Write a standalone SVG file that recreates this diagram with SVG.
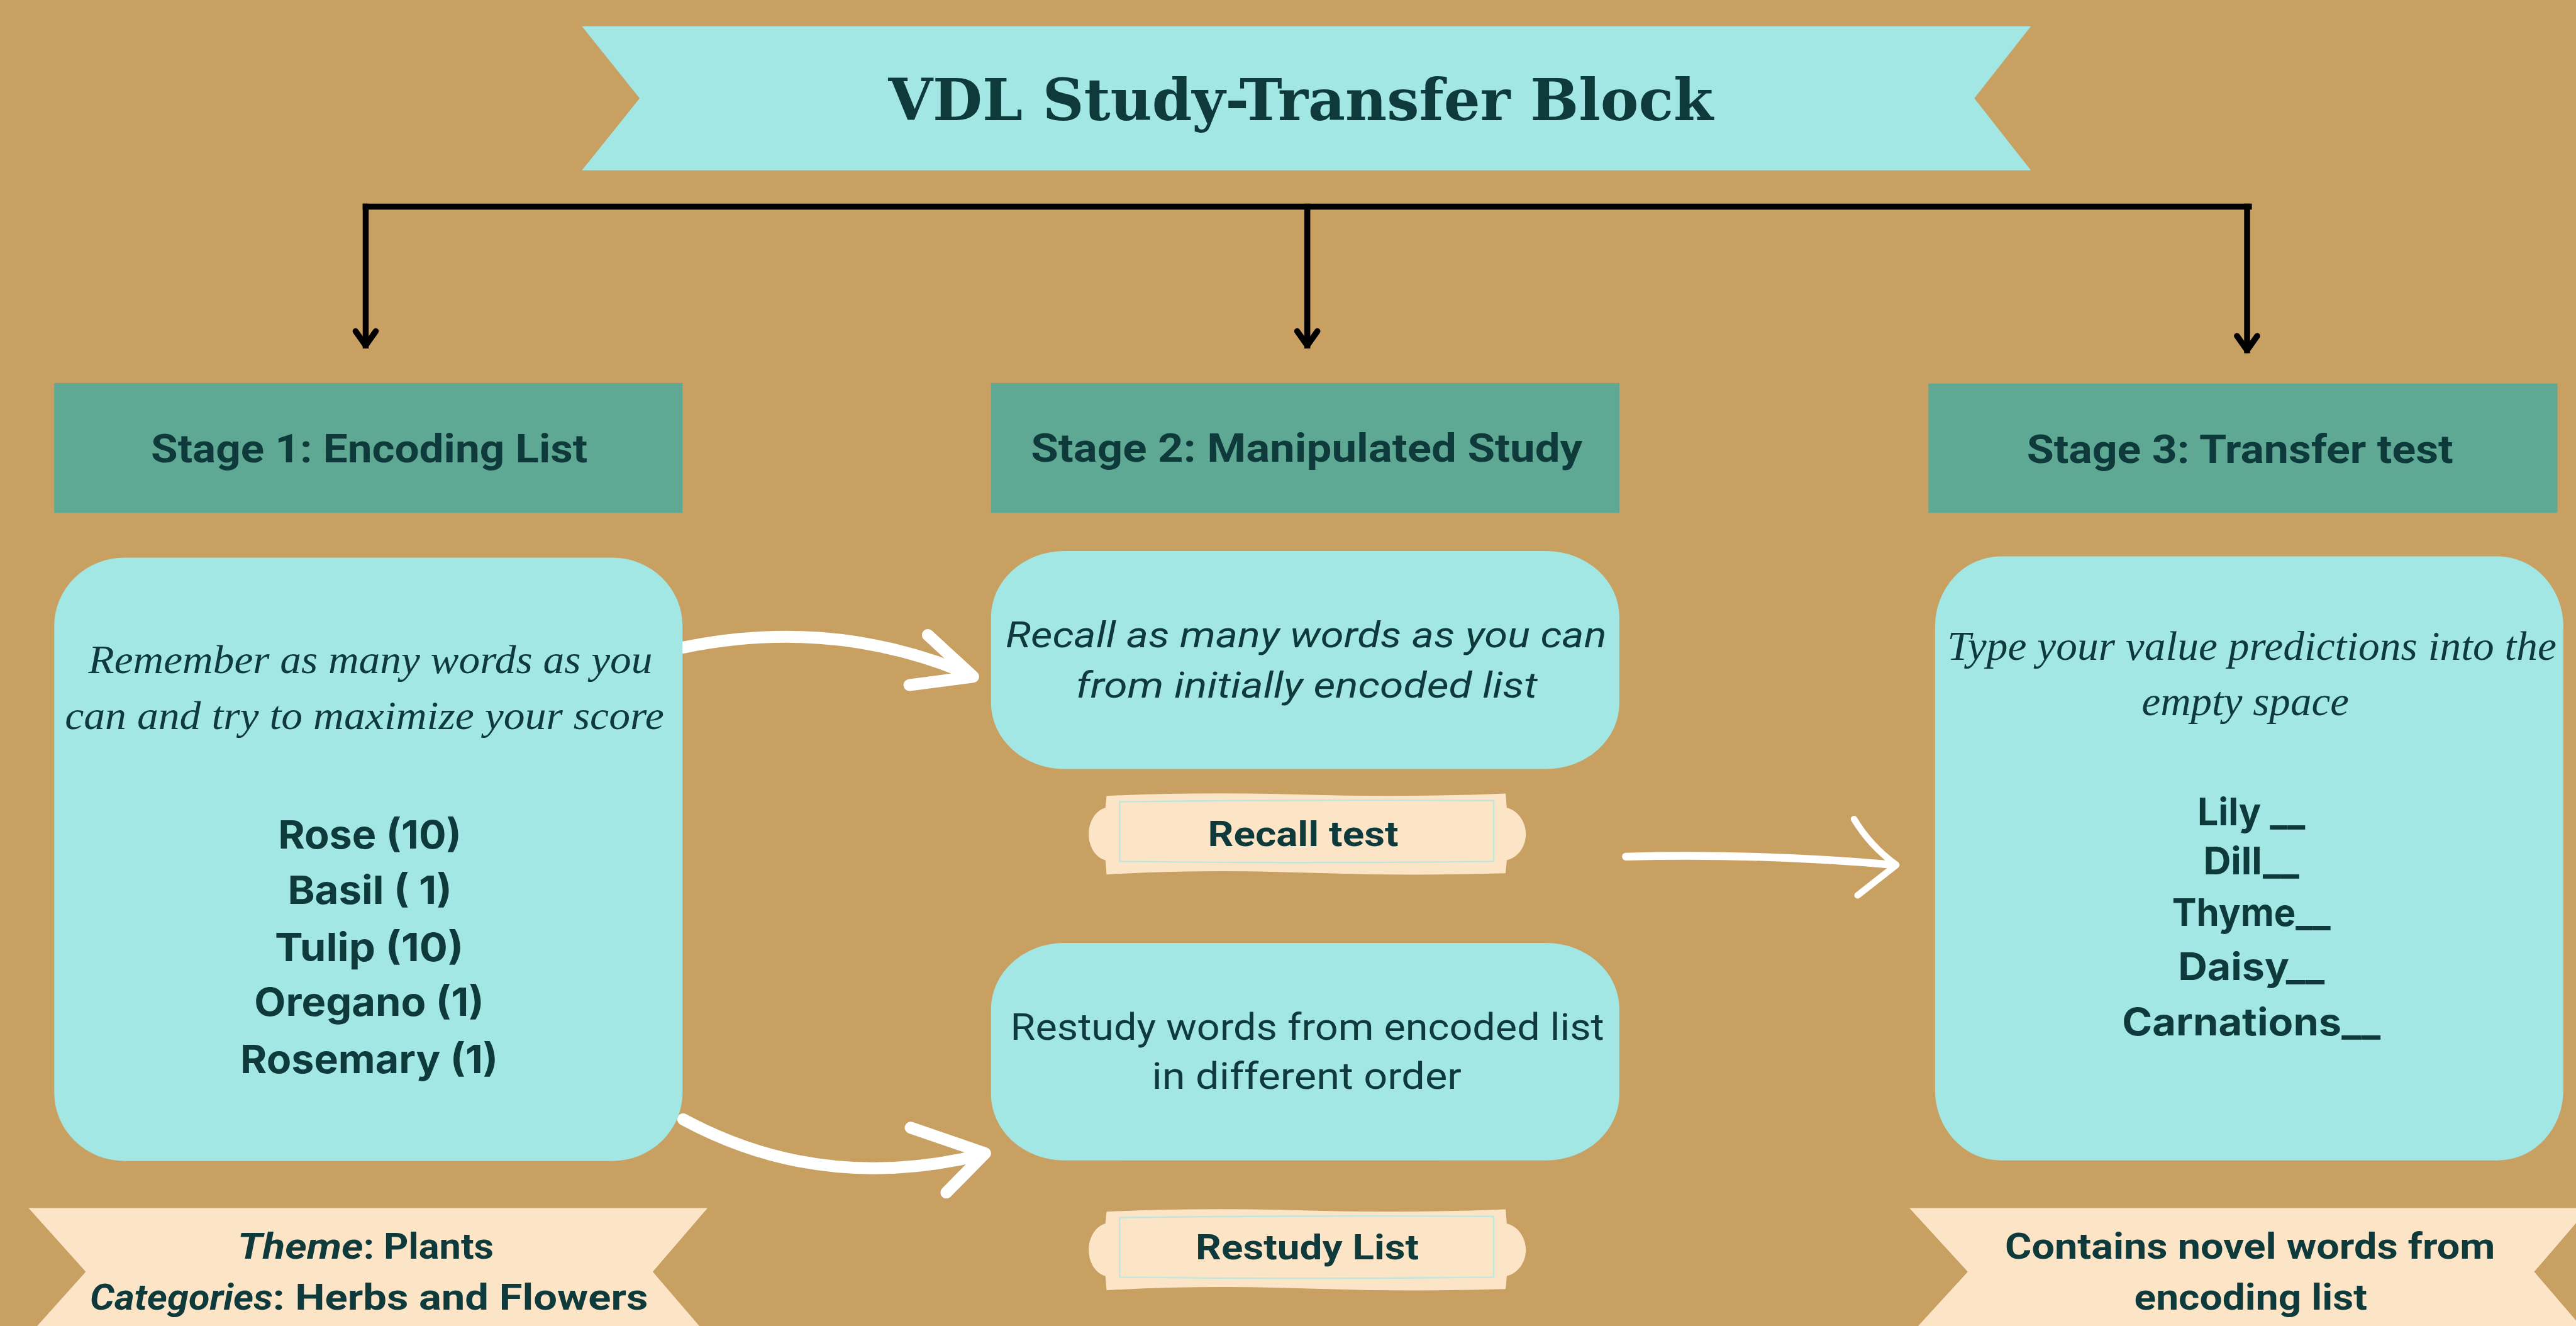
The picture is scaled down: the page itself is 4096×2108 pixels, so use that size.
<svg xmlns="http://www.w3.org/2000/svg" width="4096" height="2108" viewBox="0 0 4096 2108">
<style>
.bg{fill:#c8a062}
.cyan{fill:#a2e7e4}
.hdr{fill:#5fa893}
.beige{fill:#fbe5c6}
.t{fill:#0e3a3b;text-anchor:middle}
.cond{font-family:"Liberation Sans Narrow","Roboto","Open Sans",sans-serif;font-weight:700}
.condr{font-family:"Liberation Sans Narrow","Roboto","Open Sans",sans-serif;font-weight:400}
.geo{font-family:"Inter","Noto Sans",sans-serif;font-weight:700}
.seri{font-family:"Liberation Serif","Times New Roman",serif;font-style:italic}
.title{font-family:"DejaVu Serif","Liberation Serif",serif;font-weight:700}
.blk{fill:none;stroke:#000;stroke-width:10;stroke-linecap:square}
.wht{fill:none;stroke:#fff;stroke-linecap:round;stroke-linejoin:round}
.inner{fill:none;stroke:#bfe6df;stroke-width:2.5}
</style>
<defs>
<marker id="chev" markerUnits="userSpaceOnUse" viewBox="-34 -26 42 52" markerWidth="42" markerHeight="52" refX="0" refY="0" orient="auto">
<path d="M-24,-17 L0,0 L-24,17" fill="none" stroke="#000" stroke-width="10" stroke-linecap="round" stroke-linejoin="round"/>
</marker>
<g id="plaque">
<path class="beige" d="M0,2 Q160,-5 330,0 T670,-2 L672,22 C690,26 704,45 704,66 C704,88 690,106 672,110 L670,132 Q500,137 330,131 T0,134 L-2,110 C-18,106 -30,88 -30,66 C-30,45 -18,26 -2,22 Z"/>
<path class="inner" d="M22,12 Q330,8 650,10 L650,112 Q330,116 22,112 Z"/>
</g>
</defs>
<rect class="bg" x="0" y="0" width="4096" height="2108"/>
<g transform="scale(0.947)">
<g id="title">
<path class="cyan" d="M977,44 L3410,44 L3315,165 L3410,286 L977,286 L1074,165 Z"/>
<text class="t title" x="2184" y="202" font-size="96" textLength="1385" lengthAdjust="spacingAndGlyphs">VDL Study-Transfer Block</text>
</g>
<g id="connectors">
<path class="blk" d="M614,347 H3776"/>
<path class="blk" d="M614,347 V580" marker-end="url(#chev)"/>
<path class="blk" d="M2195,347 V580" marker-end="url(#chev)"/>
<path class="blk" d="M3773,347 V588" marker-end="url(#chev)"/>
<path class="wht" stroke-width="20" d="M1147,1087 Q1400,1035 1630,1133"/>
<path class="wht" stroke-width="20" d="M1558,1066 L1634,1136 L1527,1150"/>
<path class="wht" stroke-width="20" d="M1147,1879 Q1380,2005 1650,1938"/>
<path class="wht" stroke-width="20" d="M1529,1893 L1654,1936 L1589,2002"/>
<path class="wht" stroke-width="13" d="M2730,1438 Q2950,1432 3182,1452"/>
<path class="wht" stroke-width="11" d="M3113,1375 Q3140,1420 3184,1452 L3119,1503"/>
</g>
<g id="stage1">
<rect class="hdr" x="91" y="643" width="1055" height="218"/>
<text class="t cond" x="620" y="776" font-size="66" textLength="733" lengthAdjust="spacingAndGlyphs">Stage 1: Encoding List</text>
</g>
<g id="stage2">
<rect class="hdr" x="1664" y="643" width="1055" height="218"/>
<text class="t cond" x="2194" y="775" font-size="66" textLength="926" lengthAdjust="spacingAndGlyphs">Stage 2: Manipulated Study</text>
</g>
<g id="stage3">
<rect class="hdr" x="3238" y="644" width="1056" height="217"/>
<text class="t cond" x="3761" y="777" font-size="66" textLength="716" lengthAdjust="spacingAndGlyphs">Stage 3: Transfer test</text>
</g>
<g id="encoding-box">
<rect class="cyan" x="91" y="936" width="1055" height="1013" rx="118" ry="115"/>
<text class="t seri" x="622" y="1130" font-size="66" textLength="947" lengthAdjust="spacingAndGlyphs">Remember as many words as you</text>
<text class="t seri" x="612" y="1224" font-size="66" textLength="1006" lengthAdjust="spacingAndGlyphs">can and try to maximize your score</text>
<text class="t geo" x="621" y="1424" font-size="66" textLength="308" lengthAdjust="spacingAndGlyphs">Rose (10)</text>
<text class="t geo" x="621" y="1517" font-size="66" textLength="276" lengthAdjust="spacingAndGlyphs">Basil ( 1)</text>
<text class="t geo" x="620" y="1613" font-size="66" textLength="317" lengthAdjust="spacingAndGlyphs">Tulip (10)</text>
<text class="t geo" x="620" y="1705" font-size="66" textLength="386" lengthAdjust="spacingAndGlyphs">Oregano (1)</text>
<text class="t geo" x="620" y="1801" font-size="66" textLength="433" lengthAdjust="spacingAndGlyphs">Rosemary (1)</text>
</g>
<g id="theme-ribbon">
<path class="beige" d="M48,2028 L1188,2028 L1096,2135 L1188,2242 L48,2242 L144,2135 Z"/>
<text class="t cond" font-size="60"><tspan x="399" y="2113" text-anchor="start" font-style="italic" textLength="211" lengthAdjust="spacingAndGlyphs">Theme</tspan><tspan text-anchor="start" textLength="219" lengthAdjust="spacingAndGlyphs">: Plants</tspan></text>
<text class="t cond" font-size="60"><tspan x="151" y="2198" text-anchor="start" font-style="italic" textLength="307" lengthAdjust="spacingAndGlyphs">Categories</tspan><tspan text-anchor="start" textLength="630" lengthAdjust="spacingAndGlyphs">: Herbs and Flowers</tspan></text>
</g>
<g id="recall-box">
<rect class="cyan" x="1664" y="925" width="1055" height="366" rx="123" ry="111"/>
<text class="t condr" font-style="italic" x="2193" y="1087" font-size="60" textLength="1009" lengthAdjust="spacingAndGlyphs">Recall as many words as you can</text>
<text class="t condr" font-style="italic" x="2194" y="1171" font-size="60" textLength="775" lengthAdjust="spacingAndGlyphs">from initially encoded list</text>
</g>
<g id="recall-test">
<use href="#plaque" x="1858" y="1334"/>
<text class="t cond" x="2188" y="1420" font-size="58" textLength="320" lengthAdjust="spacingAndGlyphs">Recall test</text>
</g>
<g id="restudy-box">
<rect class="cyan" x="1664" y="1583" width="1055" height="365" rx="123" ry="111"/>
<text class="t condr" x="2195" y="1745" font-size="62" textLength="997" lengthAdjust="spacingAndGlyphs">Restudy words from encoded list</text>
<text class="t condr" x="2194" y="1828" font-size="62" textLength="520" lengthAdjust="spacingAndGlyphs">in different order</text>
</g>
<g id="restudy-list">
<use href="#plaque" x="1858" y="2032"/>
<text class="t cond" x="2195" y="2114" font-size="58" textLength="375" lengthAdjust="spacingAndGlyphs">Restudy List</text>
</g>
<g id="transfer-box">
<rect class="cyan" x="3249" y="934" width="1055" height="1014" rx="110" ry="118"/>
<text class="t seri" x="3781" y="1108" font-size="70" textLength="1023" lengthAdjust="spacingAndGlyphs">Type your value predictions into the</text>
<text class="t seri" x="3770" y="1201" font-size="70" textLength="348" lengthAdjust="spacingAndGlyphs">empty space</text>
<text class="t geo" x="3780" y="1385" font-size="64" textLength="181" lengthAdjust="spacingAndGlyphs">Lily __</text>
<text class="t geo" x="3780" y="1468" font-size="64" textLength="161" lengthAdjust="spacingAndGlyphs">Dill__</text>
<text class="t geo" x="3780" y="1554" font-size="64" textLength="266" lengthAdjust="spacingAndGlyphs">Thyme__</text>
<text class="t geo" x="3780" y="1645" font-size="64" textLength="246" lengthAdjust="spacingAndGlyphs">Daisy__</text>
<text class="t geo" x="3780" y="1738" font-size="64" textLength="434" lengthAdjust="spacingAndGlyphs">Carnations__</text>
</g>
<g id="novel-ribbon">
<path class="beige" d="M3206,2028 L4347,2028 L4255,2135 L4347,2242 L3206,2242 L3304,2135 Z"/>
<text class="t cond" x="3778" y="2113" font-size="60" textLength="823" lengthAdjust="spacingAndGlyphs">Contains novel words from</text>
<text class="t cond" x="3779" y="2198" font-size="60" textLength="391" lengthAdjust="spacingAndGlyphs">encoding list</text>
</g>
</g>
</svg>
